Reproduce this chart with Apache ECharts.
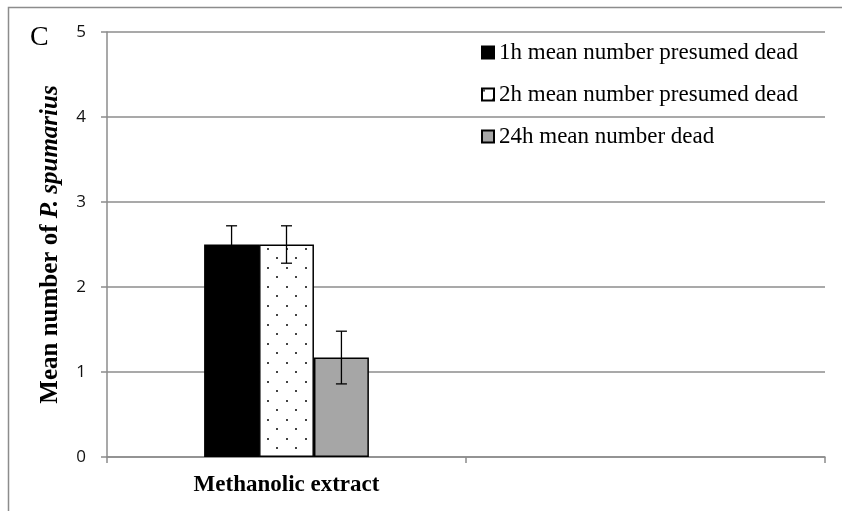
<!DOCTYPE html>
<html>
<head>
<meta charset="utf-8">
<script src="https://cdn.jsdelivr.net/npm/echarts@6/dist/echarts.min.js"></script>
<style>html,body{margin:0;padding:0;background:#fff;}#c{width:842px;height:511px;}</style>
</head>
<body>
<div id="c"></div>
<script>
// Data
var categories = ['Methanolic extract', ''];
var seriesNames = ['1h mean number presumed dead', '2h mean number presumed dead', '24h mean number dead'];
var means1h = [2.5, null];
var means2h = [2.5, null];
var means24h = [1.17, null];
var err1h = [0.22, null];
var err2h = [0.22, null];
var err24h = [0.31, null];
var yTicks = [0, 1, 2, 3, 4, 5];

var means = [means1h, means2h, means24h];
var errs = [err1h, err2h, err24h];

// dotted pattern
var pc = document.createElement('canvas');
pc.width = 19; pc.height = 19;
var g = pc.getContext('2d');
g.fillStyle = '#ffffff'; g.fillRect(0, 0, 19, 19);
g.fillStyle = '#444444';
g.fillRect(1, 1, 2, 2);
g.fillRect(10, 10, 2, 2);

var colors = ['#000000', {image: pc, repeat: 'repeat'}, '#a6a6a6'];
var barFrac = 0.153;

var chart = echarts.init(document.getElementById('c'), null, {renderer: 'canvas'});

var series = [];
for (var s = 0; s < 3; s++) {
  series.push({
    name: seriesNames[s],
    type: 'bar',
    data: means[s].map(function (v) { return v === null ? '-' : v; }),
    barWidth: (barFrac * 100) + '%',
    barGap: '0%',
    itemStyle: {color: colors[s], borderColor: '#000', borderWidth: 1.5},
    emphasis: {disabled: true},
    z: 2
  });
}
// error bars
var errData = [];
for (var s2 = 0; s2 < 3; s2++) {
  for (var i = 0; i < categories.length; i++) {
    if (means[s2][i] !== null) errData.push([i, means[s2][i] - errs[s2][i], means[s2][i] + errs[s2][i], s2]);
  }
}
series.push({
  type: 'custom',
  name: 'err',
  data: errData,
  z: 5,
  silent: true,
  encode: {x: 0, y: [1, 2]},
  renderItem: function (params, api) {
    var ci = api.value(0);
    var lo = api.coord([ci, api.value(1)]);
    var hi = api.coord([ci, api.value(2)]);
    var band = api.size([1, 0])[0];
    var bw = band * barFrac;
    var x = lo[0] + (api.value(3) - 1) * bw;
    var cap = 5.5;
    var st = {stroke: '#000', lineWidth: 1.3};
    return {type: 'group', children: [
      {type: 'line', shape: {x1: x, y1: lo[1], x2: x, y2: hi[1]}, style: st},
      {type: 'line', shape: {x1: x - cap, y1: lo[1], x2: x + cap, y2: lo[1]}, style: st},
      {type: 'line', shape: {x1: x - cap, y1: hi[1], x2: x + cap, y2: hi[1]}, style: st}
    ]};
  }
});

chart.setOption({
  animation: false,
  backgroundColor: '#fff',
  grid: {left: 107, right: 17, top: 32, bottom: 54},
  legend: {
    orient: 'vertical',
    left: 476, top: 36,
    icon: 'rect',
    itemWidth: 12, itemHeight: 12, itemGap: 19,
    data: seriesNames,
    selectedMode: false,
    textStyle: {fontFamily: 'Liberation Serif', fontSize: 23, color: '#000'}
  },
  xAxis: {
    type: 'category',
    data: categories,
    axisLine: {lineStyle: {color: '#8c8c8c', width: 1.5}},
    axisTick: {show: true, length: 6, lineStyle: {color: '#8c8c8c', width: 1.5}},
    axisLabel: {margin: 17, fontFamily: 'Liberation Serif', fontWeight: 'bold', fontSize: 23, color: '#000'},
    splitLine: {show: false}
  },
  yAxis: {
    type: 'value',
    min: 0, max: 5, interval: 1,
    axisLine: {show: true, lineStyle: {color: '#8c8c8c', width: 1.5}},
    axisTick: {show: true, length: 6, lineStyle: {color: '#8c8c8c', width: 1.5}},
    axisLabel: {margin: 21, fontFamily: 'Open Sans', fontSize: 17, color: '#111',
      formatter: function (v) { return yTicks.indexOf(v) >= 0 ? String(v) : ''; }},
    splitLine: {lineStyle: {color: '#8c8c8c', width: 1.5}},
    name: '{b|Mean number of }{i|P. spumarius}',
    nameLocation: 'middle',
    nameRotate: 90,
    nameGap: 44,
    nameTextStyle: {
      rich: {
        b: {fontFamily: 'Liberation Serif', fontWeight: 'bold', fontSize: 25, color: '#000'},
        i: {fontFamily: 'Liberation Serif', fontWeight: 'bold', fontStyle: 'italic', fontSize: 25, color: '#000'}
      }
    }
  },
  graphic: [
    {type: 'rect', shape: {x: 8.5, y: 7.5, width: 900, height: 600}, style: {fill: null, stroke: '#8c8c8c', lineWidth: 1.5}, silent: true, z: -1},
    {type: 'text', left: 30, top: 24, style: {text: 'C', fontFamily: 'Liberation Serif', fontSize: 28, fill: '#000'}}
  ],
  series: series
});
</script>
</body>
</html>
